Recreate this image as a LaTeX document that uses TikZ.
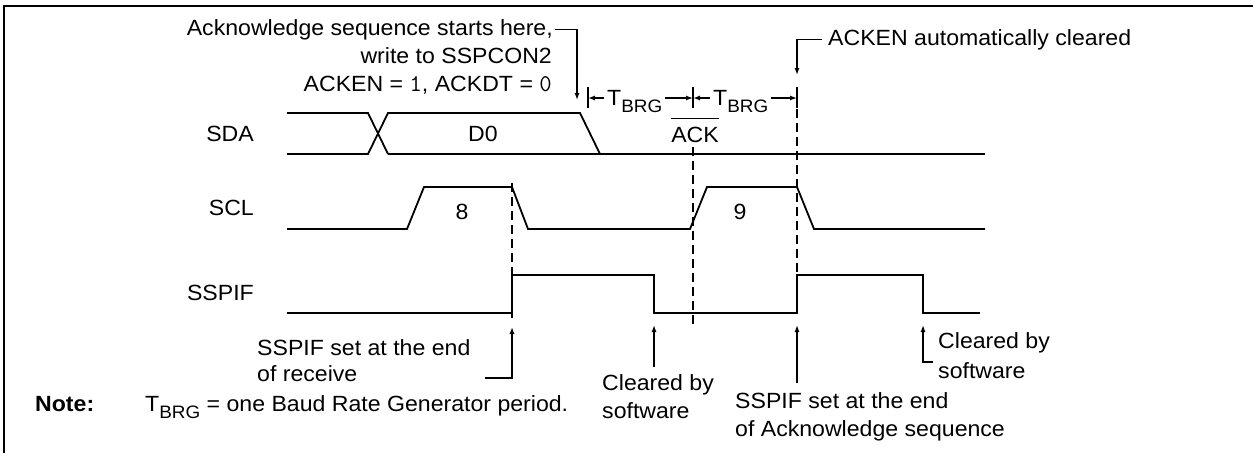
\documentclass[tikz,border=0pt]{standalone}
\usepackage{fontspec}
\setmainfont{Liberation Sans}[FakeStretch=1.05]
\usetikzlibrary{arrows.meta}
\newcommand{\tbrg}{T\raisebox{-7pt}{\fontsize{18}{18}\selectfont BRG}}
\begin{document}
\begin{tikzpicture}[x=1pt,y=-1pt,
  txt/.style={inner sep=0pt,font=\fontsize{22}{28}\selectfont},
  wave/.style={line width=1.8pt,line join=miter},
  guide/.style={line width=1.8pt,dash pattern=on 9pt off 5pt},
  ptr/.style={line width=1.3pt,-{Latex[length=7pt,width=5pt]}},
  tick/.style={line width=1.3pt},
  frame/.style={line width=2.4pt}]
\useasboundingbox (0,0) rectangle (1253,453);
% frame
\draw[frame] (4,453) -- (4,6) -- (1253,6);

% signal labels
\node[txt,anchor=base east] (lsda) at (254,141) {SDA};
\node[txt,anchor=base east] (lscl) at (254,215) {SCL};
\node[txt,anchor=base east] (lssp) at (254,300) {SSPIF};

% SDA
\draw[wave] (287,113) -- (368,113) -- (388,154);
\draw[wave] (287,154) -- (368,154) -- (388,113) -- (580,113) -- (600,154);
\draw[wave] (388,154) -- (985,154);
\node[txt,anchor=base] (d0) at (483,141) {D0};
\node[txt,anchor=base] (ack) at (695,142) {ACK};
\draw[line width=1.3pt] ([yshift=8pt]ack.north west) -- ([yshift=8pt]ack.north east);

% SCL
\draw[wave] (287,229) -- (407,229) -- (424,187) -- (512,187) -- (528,229) -- (690,229)
  -- (707,187) -- (797,187) -- (814,229) -- (985,229);
\node[txt,anchor=base] (n8) at (462,219) {8};
\node[txt,anchor=base] (n9) at (740,219) {9};

% SSPIF
\draw[wave] (287,313) -- (512,313) -- (512,275) -- (654,275) -- (654,313) -- (797,313)
  -- (797,275) -- (923,275) -- (923,313) -- (980,313);

% guides
\draw[guide] (512,183) -- (512,320);
\draw[guide] (693,147) -- (693,327);
\draw[guide] (797,109) -- (797,275);

% top annotations
\node[txt,anchor=base east] (a1) at (553,35) {Acknowledge sequence starts here,};
\node[txt,anchor=base east] (a2) at (552,63) {write to SSPCON2};
\node[txt,anchor=base east] (a3) at (552,91) {ACKEN = {\ttfamily\fontsize{24}{28}\selectfont 1}, ACKDT = {\ttfamily\fontsize{24}{28}\selectfont 0}};
\coordinate (p1) at (577,100);
\draw[ptr] ([xshift=2pt]a1.east) -| (p1);
\node[txt,anchor=base west] (acken) at (828,45) {ACKEN automatically cleared};
\coordinate (p2) at (797,75);
\draw[ptr] ([xshift=-6pt]acken.west) -| (p2);

% TBRG dimensions
\coordinate (k1) at (588,98);
\coordinate (k2) at (693,98);
\coordinate (k3) at (797,98);
\foreach \k in {k1,k2,k3} \draw[tick] ([yshift=11pt]\k) -- ([yshift=-10pt]\k);
\node[txt,inner xsep=3pt,anchor=base west] (tb1) at (604,105) {\tbrg};
\node[txt,inner xsep=3pt,anchor=base west] (tb2) at (710,105) {\tbrg};
\draw[ptr] (k1 -| tb1.west) -- (k1);
\draw[ptr] (k1 -| tb1.east) -- (k2);
\draw[ptr] (k2 -| tb2.west) -- (k2);
\draw[ptr] (k2 -| tb2.east) -- (k3);

% bottom annotations
\node[txt,anchor=base west] (r1) at (257,355) {SSPIF set at the end};
\node[txt,anchor=base west] (r2) at (257,381) {of receive};
\coordinate (h1) at (485,378);
\coordinate (q1) at (512,327);
\draw[ptr] (h1) -| (q1);

\node[txt,anchor=base west] (c1a) at (602,390) {Cleared by};
\node[txt,anchor=base west] (c1b) at (602,418) {software};
\coordinate (h2) at (654,367);
\coordinate (q2) at (654,325);
\draw[ptr] (h2) -- (q2);

\node[txt,anchor=base west] (s1) at (735,408) {SSPIF set at the end};
\node[txt,anchor=base west] (s2) at (735,436) {of Acknowledge sequence};
\coordinate (h3) at (797,383);
\coordinate (q3) at (797,325);
\draw[ptr] (h3) -- (q3);

\node[txt,anchor=base west] (c2a) at (938,348) {Cleared by};
\node[txt,anchor=base west] (c2b) at (938,378) {software};
\coordinate (h4) at (933,362);
\coordinate (q4) at (923,325);
\draw[ptr] (h4) -| (q4);

% note
\node[txt,anchor=base west] (note) at (35,411) {\bfseries Note:};
\node[txt,anchor=base west] (notetxt) at (145,411) {\tbrg{} = one Baud Rate Generator period.};
\end{tikzpicture}
\end{document}
